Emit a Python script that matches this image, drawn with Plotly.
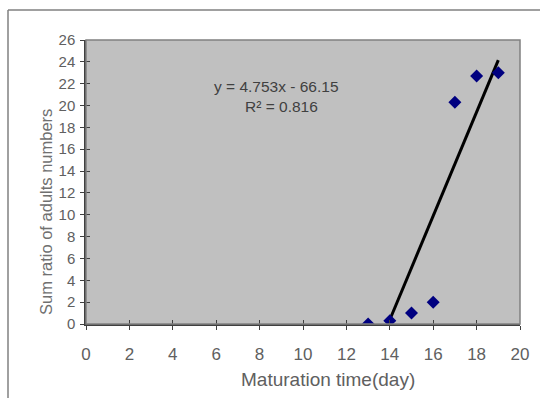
import numpy as np
import plotly.graph_objects as go

days = [13, 14, 15, 16, 17, 18, 19]
ratio = [0.0, 0.3, 1.0, 2.0, 20.3, 22.7, 23.0]
x_ticks = list(range(0, 21, 2))
y_ticks = list(range(0, 27, 2))
equation_text = "y = 4.753x - 66.15"
r2_text = "R² = 0.816"

slope, intercept = np.polyfit(days, ratio, 1)
trend_x = [14, 19]
trend_y = [slope * v + intercept for v in trend_x]

W, H = 540, 398
L, R, T, B = 86, 20, 40, 74
pw, ph = W - L - R, H - T - B

FONT = "Liberation Sans, Arial"

fig = go.Figure()
fig.add_trace(go.Scatter(x=trend_x, y=trend_y, mode="lines",
                         line=dict(color="black", width=3), showlegend=False))
fig.add_trace(go.Scatter(x=days, y=ratio, mode="markers",
                         marker=dict(symbol="diamond", size=10, color="#000080"),
                         showlegend=False))
fig.add_trace(go.Scatter(x=[0], y=[0], mode="markers", marker=dict(opacity=0),
                         xaxis="x2", yaxis="y2", showlegend=False, hoverinfo="skip"))

fig.update_layout(
    width=W, height=H,
    margin=dict(l=L, r=R, t=T, b=B),
    paper_bgcolor="white",
    plot_bgcolor="#c0c0c0",
    xaxis=dict(range=[0, 20], tickvals=x_ticks, showgrid=False, zeroline=False,
               ticks="outside", ticklen=4, tickcolor="#404040",
               showline=True, linecolor="#404040", linewidth=1.5,
               ticklabelstandoff=10,
               tickfont=dict(family=FONT, size=17, color="#606060")),
    yaxis=dict(range=[0, 26], tickvals=y_ticks, showgrid=False, zeroline=False,
               ticks="outside", ticklen=4, tickcolor="#404040",
               showline=True, linecolor="#404040", linewidth=1.5,
               ticklabelstandoff=2,
               tickfont=dict(family=FONT, size=15, color="#606060")),
    xaxis2=dict(range=[0, 20], tickvals=x_ticks, overlaying="x", showgrid=False,
                zeroline=False, ticks="inside", ticklen=4, tickcolor="#404040",
                showticklabels=False, side="bottom", anchor="y"),
    yaxis2=dict(range=[0, 26], tickvals=y_ticks, overlaying="y", showgrid=False,
                zeroline=False, ticks="inside", ticklen=4, tickcolor="#404040",
                showticklabels=False, side="left", anchor="x"),
    shapes=[
        dict(type="rect", xref="paper", yref="paper", x0=0, x1=1, y0=0, y1=1,
             line=dict(color="#808080", width=1.5), layer="above"),
        dict(type="line", xref="paper", yref="paper",
             x0=(8 - L) / pw, x1=(8 - L) / pw, y0=1 + (T - 10) / ph, y1=-(B + 10) / ph,
             line=dict(color="#808080", width=1.5)),
        dict(type="line", xref="paper", yref="paper",
             x0=(8 - L) / pw, x1=1 + (R + 10) / pw, y0=1 + (T - 10) / ph, y1=1 + (T - 10) / ph,
             line=dict(color="#808080", width=1.5)),
    ],
    annotations=[
        dict(text="Maturation time(day)", xref="paper", yref="paper",
             x=(328 - L) / pw, y=-(379 - T - ph) / ph, showarrow=False,
             xanchor="center", yanchor="middle",
             font=dict(family=FONT, size=19, color="#606060")),
        dict(text="Sum ratio of adults numbers", xref="paper", yref="paper",
             x=(46 - L) / pw, y=1 - (212 - T) / ph, textangle=-90, showarrow=False,
             xanchor="center", yanchor="middle",
             font=dict(family="Liberation Sans Narrow, Liberation Sans, Arial",
                       size=16.5, color="#707070")),
        dict(text=equation_text, x=8.76, y=21.75, xref="x", yref="y", showarrow=False,
             font=dict(family=FONT, size=15.5, color="#404040")),
        dict(text=r2_text, x=9.0, y=19.95, xref="x", yref="y", showarrow=False,
             font=dict(family=FONT, size=15.5, color="#404040")),
    ],
)

fig.write_html("out.html")
